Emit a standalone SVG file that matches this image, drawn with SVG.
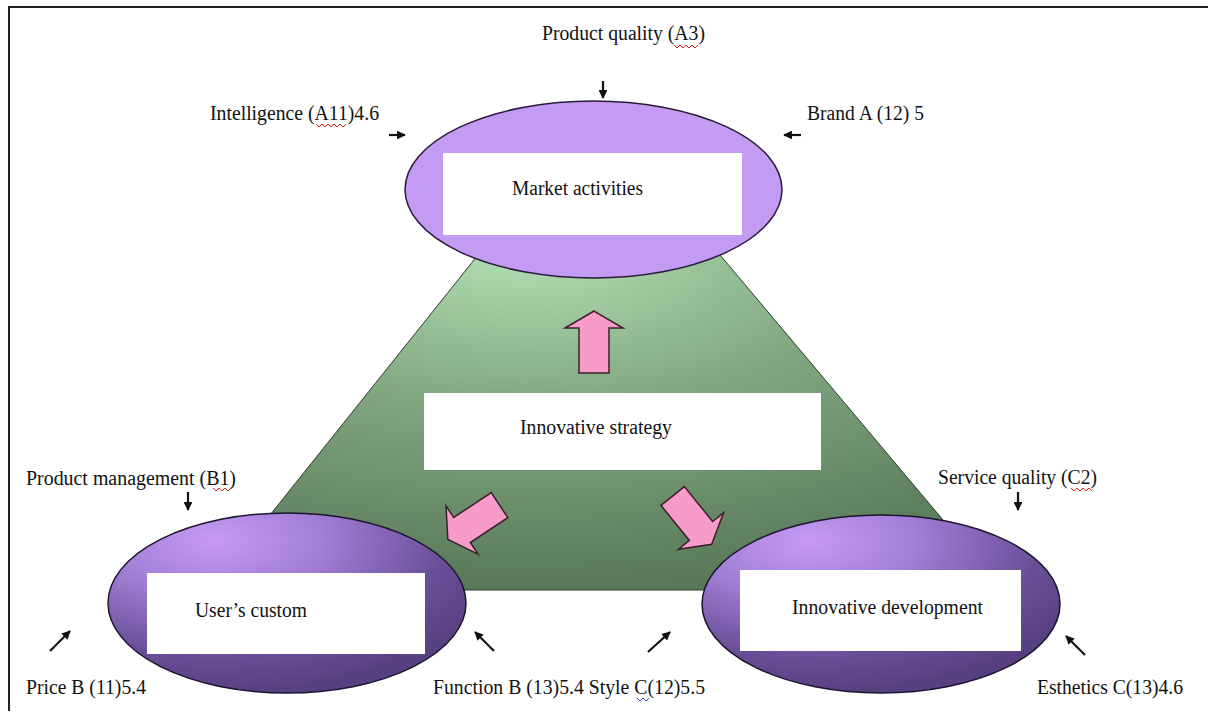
<svg xmlns="http://www.w3.org/2000/svg" width="1208" height="713" viewBox="0 0 1208 713">
<style>
  text { font-family: "Liberation Serif", "Times New Roman", serif; font-size: 20px; fill: #111; }
  .box { fill: #ffffff; stroke: none; }
  .pin { stroke: #111; stroke-width: 2.2; fill: none; marker-end: url(#ah); }
  .pink { fill: #f79cc9; stroke: #3a1f2c; stroke-width: 1.5; stroke-linejoin: miter; }
  .sq { fill: none; stroke: #e02020; stroke-width: 1; }
  .sqb { fill: none; stroke: #3040d0; stroke-width: 1; }
</style>
<defs>
  <marker id="ah" viewBox="0 0 10 10" refX="9" refY="5" markerWidth="4" markerHeight="4" orient="auto" markerUnits="strokeWidth">
    <path d="M0,0 L10,5 L0,10 z" fill="#111"/>
  </marker>
  <radialGradient id="green" cx="0.4" cy="0.05" r="0.95" fx="0.4" fy="0.05">
    <stop offset="0" stop-color="#b4e0b4"/>
    <stop offset="0.45" stop-color="#82a882"/>
    <stop offset="1" stop-color="#587858"/>
  </radialGradient>
  <radialGradient id="purple" cx="0.3" cy="0.15" r="0.85" fx="0.3" fy="0.15">
    <stop offset="0" stop-color="#c59af5"/>
    <stop offset="0.35" stop-color="#a27fd6"/>
    <stop offset="0.75" stop-color="#6a4f98"/>
    <stop offset="1" stop-color="#574080"/>
  </radialGradient>
  <polygon id="blk" points="17,0 0,-29 0,-15 -45,-15 -45,15 0,15 0,29"/>
</defs>
<rect x="0" y="0" width="1208" height="713" fill="#ffffff"/>
<path d="M9,711 L9,7 L1208,7" fill="none" stroke="#222" stroke-width="2"/>

<g id="strategy">
  <polygon points="498,230 699,230 1002,590 210,590" fill="url(#green)" stroke="#2d3d2d" stroke-width="1"/>
  <rect class="box" x="424" y="393" width="397" height="77"/>
  <text x="520" y="434" textLength="152" lengthAdjust="spacingAndGlyphs">Innovative strategy</text>
</g>

<g id="market">
  <ellipse cx="593.5" cy="189.5" rx="188.5" ry="88.5" fill="#c49bf2" stroke="#2a1a3a" stroke-width="1.5"/>
  <rect class="box" x="443" y="153" width="299" height="82"/>
  <text x="512" y="195" textLength="131" lengthAdjust="spacingAndGlyphs">Market activities</text>
</g>

<g id="user">
  <ellipse cx="287" cy="603" rx="179" ry="90" fill="url(#purple)" stroke="#1e1430" stroke-width="1.5"/>
  <rect class="box" x="147" y="573" width="278" height="81"/>
  <text x="195" y="617" textLength="112" lengthAdjust="spacingAndGlyphs">User’s custom</text>
</g>

<g id="development">
  <ellipse cx="881" cy="604" rx="179" ry="89" fill="url(#purple)" stroke="#1e1430" stroke-width="1.5"/>
  <rect class="box" x="740" y="570" width="281" height="81"/>
  <text x="792" y="614" textLength="191" lengthAdjust="spacingAndGlyphs">Innovative development</text>
</g>

<g id="flow-arrows">
  <use href="#blk" class="pink" transform="translate(594,328) rotate(-90)"/>
  <use href="#blk" class="pink" transform="translate(462,530) rotate(146.5)"/>
  <use href="#blk" class="pink" transform="translate(701,531) rotate(51)"/>
</g>

<g id="labels">
  <text x="542" y="40" textLength="163" lengthAdjust="spacingAndGlyphs">Product quality (A3)</text>
  <text x="210" y="120" textLength="169" lengthAdjust="spacingAndGlyphs">Intelligence (A11)4.6</text>
  <text x="807" y="120" textLength="117" lengthAdjust="spacingAndGlyphs">Brand A (12) 5</text>
  <text x="26" y="485" textLength="210" lengthAdjust="spacingAndGlyphs">Product management (B1)</text>
  <text x="938" y="484" textLength="159" lengthAdjust="spacingAndGlyphs">Service quality (C2)</text>
  <text x="26" y="694" textLength="120" lengthAdjust="spacingAndGlyphs">Price B (11)5.4</text>
  <text x="433" y="694" textLength="272" lengthAdjust="spacingAndGlyphs">Function B (13)5.4 Style C(12)5.5</text>
  <text x="1037" y="694" textLength="146" lengthAdjust="spacingAndGlyphs">Esthetics C(13)4.6</text>
  <path class="sq" d="M674,45 l3,3 l3,-3 l3,3 l3,-3 l3,3 l3,-3 l3,3 l3,-3"/>
  <path class="sq" d="M316,124 l3,3 l3,-3 l3,3 l3,-3 l3,3 l3,-3 l3,3 l3,-3 l3,3 l3,-3"/>
  <path class="sq" d="M213,488 l3,3 l3,-3 l3,3 l3,-3 l3,3 l3,-3"/>
  <path class="sq" d="M1071,488 l3,3 l3,-3 l3,3 l3,-3 l3,3 l3,-3 l3,3"/>
  <path class="sqb" d="M637,698 l3,3 l3,-3 l3,3 l3,-3"/>
</g>

<g id="connectors">
  <line class="pin" x1="603" y1="81" x2="603" y2="98"/>
  <line class="pin" x1="389" y1="135" x2="405" y2="135"/>
  <line class="pin" x1="801" y1="135" x2="784" y2="135"/>
  <line class="pin" x1="188" y1="492" x2="188" y2="510"/>
  <line class="pin" x1="1018" y1="492" x2="1018" y2="510"/>
  <line class="pin" x1="50" y1="651" x2="70" y2="631"/>
  <line class="pin" x1="494" y1="651" x2="475" y2="632"/>
  <line class="pin" x1="648" y1="652" x2="670" y2="632"/>
  <line class="pin" x1="1085" y1="655" x2="1066" y2="636"/>
</g>
</svg>
